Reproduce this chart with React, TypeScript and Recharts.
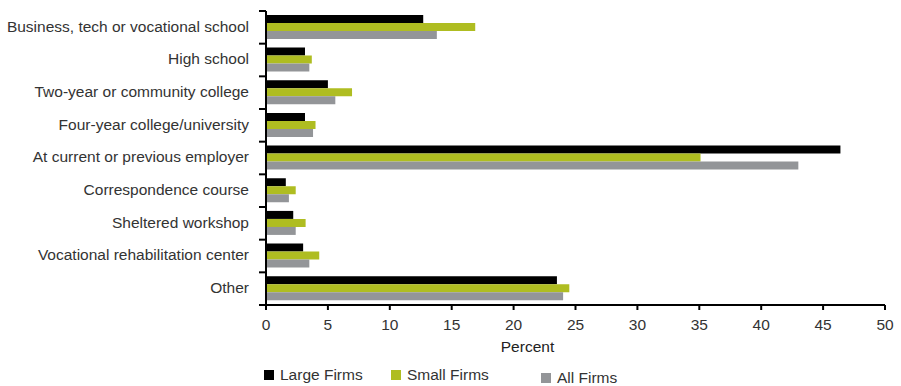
import React from "react";
import { Bar, BarChart, Legend, XAxis, YAxis } from "recharts";

const categories = [
  "Business, tech or vocational school",
  "High school",
  "Two-year or community college",
  "Four-year college/university",
  "At current or previous employer",
  "Correspondence course",
  "Sheltered workshop",
  "Vocational rehabilitation center",
  "Other",
];
const largeFirms = [12.7, 3.15, 5.0, 3.15, 46.4, 1.6, 2.2, 3.0, 23.5];
const smallFirms = [16.9, 3.7, 6.95, 4.0, 35.1, 2.4, 3.2, 4.3, 24.5];
const allFirms = [13.8, 3.5, 5.6, 3.8, 43.0, 1.85, 2.4, 3.5, 24.0];
const xTicks = [0, 5, 10, 15, 20, 25, 30, 35, 40, 45, 50];

const data = categories.map((name, i) => ({
  name,
  large: largeFirms[i],
  small: smallFirms[i],
  all: allFirms[i],
}));

const FONT = "'Liberation Sans', Arial, sans-serif";
const FS = 15.5;
const TEXT = "#333333";
const GREEN = "#afbd21";
const GRAY = "#939598";

// labels at band centre, short tick marks at the band boundaries
const CategoryTick = (props: any) => {
  const { x, y, payload, index } = props;
  const half = payload?.offset ?? 16.3;
  return (
    <g>
      <text
        x={x - 17}
        y={y - 1}
        dy="0.35em"
        textAnchor="end"
        fontSize={FS}
        fontFamily={FONT}
        fill={TEXT}
      >
        {payload.value}
      </text>
      <line x1={x - 7} x2={x} y1={y - half} y2={y - half} stroke="#000" strokeWidth={2} />
      {index === categories.length - 1 && (
        <line x1={x - 7} x2={x} y1={y + half} y2={y + half} stroke="#000" strokeWidth={2} />
      )}
    </g>
  );
};

const legendItems = [
  { label: "Large Firms", color: "#000000", left: 264, top: 3 },
  { label: "Small Firms", color: GREEN, left: 391, top: 3 },
  { label: "All Firms", color: GRAY, left: 541, top: 6 },
];

const LegendContent = () => (
  <div style={{ position: "relative", width: 700, height: 22 }}>
    {legendItems.map((it) => (
      <div
        key={it.label}
        style={{
          position: "absolute",
          left: it.left,
          top: it.top,
          display: "flex",
          alignItems: "center",
          fontFamily: FONT,
          fontSize: FS,
          color: TEXT,
          lineHeight: "16px",
          whiteSpace: "nowrap",
        }}
      >
        <span
          style={{
            display: "inline-block",
            width: 10,
            height: 10,
            background: it.color,
            marginRight: 6,
          }}
        />
        {it.label}
      </div>
    ))}
  </div>
);

export default function App() {
  return (
    <div
      style={{
        position: "absolute",
        left: 0,
        top: 0,
        width: 901,
        height: 386,
        overflow: "hidden",
        background: "#fff",
      }}
    >
      <BarChart
        width={901}
        height={386}
        data={data}
        layout="vertical"
        margin={{ top: 11, right: 16, bottom: 0, left: 0 }}
        barCategoryGap="12%"
        barGap={0}
      >
        <XAxis
          type="number"
          domain={[0, 50]}
          ticks={xTicks}
          interval={0}
          height={59}
          axisLine={{ stroke: "#000", strokeWidth: 2 }}
          tickLine={{ stroke: "#000", strokeWidth: 2 }}
          tickSize={5}
          tickMargin={9}
          tick={{ fontSize: FS, fontFamily: FONT, fill: TEXT }}
          label={({ viewBox }: any) => (
            <text
              x={viewBox.x + viewBox.width / 2 - 48}
              y={viewBox.y + 47}
              textAnchor="middle"
              fontSize={FS}
              fontFamily={FONT}
              fill="#222"
            >
              Percent
            </text>
          )}
        />
        <YAxis
          type="category"
          dataKey="name"
          width={266}
          interval={0}
          axisLine={{ stroke: "#000", strokeWidth: 2 }}
          tickLine={false}
          tickSize={0}
          tickMargin={0}
          tick={<CategoryTick />}
        />
        <Legend
          verticalAlign="bottom"
          height={22}
          content={<LegendContent />}
          wrapperStyle={{ left: 0, top: 364, bottom: "auto", width: 700 }}
        />
        <Bar dataKey="large" name="Large Firms" fill="#000000" isAnimationActive={false} />
        <Bar dataKey="small" name="Small Firms" fill={GREEN} isAnimationActive={false} />
        <Bar dataKey="all" name="All Firms" fill={GRAY} isAnimationActive={false} />
      </BarChart>
    </div>
  );
}
